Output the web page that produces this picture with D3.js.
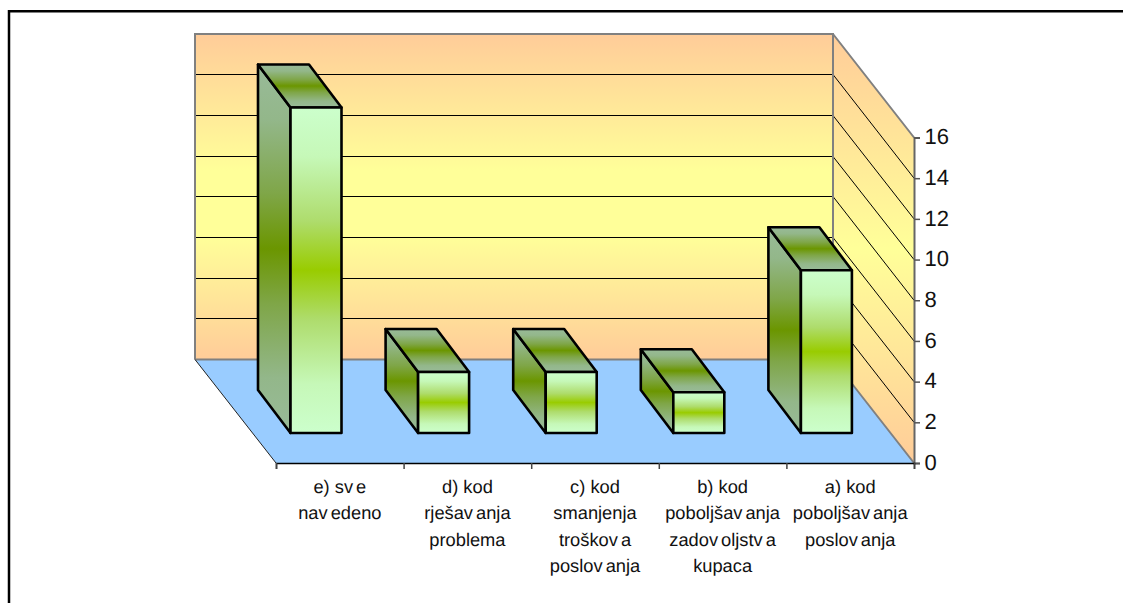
<!DOCTYPE html>
<html><head><meta charset="utf-8">
<style>html,body{margin:0;padding:0;background:#fff}svg{display:block}text{font-family:"Liberation Sans",Arial,sans-serif;fill:#111;text-rendering:geometricPrecision}</style>
<script src="https://cdnjs.cloudflare.com/ajax/libs/d3/7.8.5/d3.min.js"></script>
</head><body><div id="c"></div>
<script>
const categories = [
  ["e) sve","navedeno"],
  ["d) kod","rješavanja","problema"],
  ["c) kod","smanjenja","troškova","poslovanja"],
  ["b) kod","poboljšavanja","zadovoljstva","kupaca"],
  ["a) kod","poboljšavanja","poslovanja"]
];
const values = [16,3,3,2,8];
const yTicks = [0,2,4,6,8,10,12,14,16];

const W=1123,H=603;
const svg=d3.select("#c").append("svg").attr("width",W).attr("height",H);
const defs=svg.append("defs");
function grad(id,stops){
  const g=defs.append("linearGradient").attr("id",id).attr("x1",0).attr("y1",0).attr("x2",0).attr("y2",1);
  stops.forEach(([o,c])=>g.append("stop").attr("offset",o).attr("stop-color",c));
}
grad("wall",[[0,"#FFCC99"],[.42,"#FFFF99"],[.62,"#FFFF99"],[1,"#FFCC99"]]);
grad("sidewall",[[0,"#FFCC99"],[.5,"#FFFF99"],[1,"#FFCC99"]]);
grad("front",[[0,"#CCFFCC"],[.15,"#C6F8B8"],[.35,"#AEDC6C"],[.5,"#99CC00"],[.65,"#AEDC6C"],[.85,"#C6F8B8"],[1,"#CCFFCC"]]);
grad("dark",[[0,"#99BB99"],[.15,"#93B78A"],[.35,"#7FA648"],[.5,"#6B9600"],[.65,"#7FA648"],[.85,"#93B78A"],[1,"#99BB99"]]);

// frame: open on the right, runs off the bottom
svg.append("path").attr("d",`M9,${H} V11.2 H${W}`).attr("fill","none").attr("stroke","#000").attr("stroke-width",2.5);

const x=d3.scaleBand().domain(d3.range(categories.length)).range([276,914]);
const y=d3.scaleLinear().domain([0,16]).range([463,137.5]);
const depthX=-81, depthY=-103.5;
const [x0,x1]=x.range(), y0=y(0), y16=y(16);
const poly=p=>"M"+p.map(q=>q.join(",")).join("L")+"Z";

svg.append("path").attr("d",poly([[x0,y0],[x1,y0],[x1+depthX,y0+depthY],[x0+depthX,y0+depthY]])).attr("fill","#99CCFF");
svg.append("path").attr("d",poly([[x0+depthX,y16+depthY],[x1+depthX,y16+depthY],[x1+depthX,y0+depthY],[x0+depthX,y0+depthY]])).attr("fill","url(#wall)");
svg.append("path").attr("d",poly([[x1,y16],[x1,y0],[x1+depthX,y0+depthY],[x1+depthX,y16+depthY]])).attr("fill","url(#sidewall)");
const grid=yTicks.filter(t=>t>0&&t<16);
svg.selectAll(".g").data(grid).join("path").attr("fill","none").attr("stroke","#000").attr("stroke-width",1)
  .attr("d",t=>{const b=Math.floor(y(t)+depthY)+.5;return `M${x0+depthX},${b}H${x1+depthX}L${x1},${y(t)}`;});
svg.append("path").attr("fill","none").attr("stroke","#808080").attr("stroke-width",2)
  .attr("d",`M${x0+depthX},${y0+depthY}V${y16+depthY}H${x1+depthX}V${y0+depthY}H${x0+depthX}M${x1+depthX},${y16+depthY}L${x1},${y16}M${x1+depthX},${y0+depthY}L${x1},${y0}`);
svg.append("path").attr("fill","none").attr("stroke","#222").attr("stroke-width",1)
  .attr("d",`M${x0+depthX},${y0+depthY}L${x0},${y0}`);

const barOffX=14.5, barW=51, barFrontY=30, barDX=-32.5, barDY=-43;
const bars=svg.selectAll(".b").data(values).join("g").attr("stroke","#000").attr("stroke-width",2.6).attr("stroke-linejoin","round");
const bl=i=>x(i)+barOffX, bb=y0-barFrontY;
const bt=d=>bb-(y0-y(d));
bars.append("path").attr("fill","url(#dark)").attr("d",(d,i)=>poly([[bl(i),bt(d)],[bl(i),bb],[bl(i)+barDX,bb+barDY],[bl(i)+barDX,bt(d)+barDY]]));
bars.append("path").attr("fill","url(#dark)").attr("d",(d,i)=>poly([[bl(i),bt(d)],[bl(i)+barW,bt(d)],[bl(i)+barW+barDX,bt(d)+barDY],[bl(i)+barDX,bt(d)+barDY]]));
bars.append("rect").attr("fill","url(#front)").attr("x",(d,i)=>bl(i)).attr("y",d=>bt(d)).attr("width",barW).attr("height",d=>bb-bt(d));

const yAxis=d3.axisRight(y).tickValues(yTicks).tickSize(6).tickPadding(4.5);
const ya=svg.append("g").attr("transform",`translate(${x1},0)`).call(yAxis);
ya.select(".domain").attr("stroke","#666").attr("stroke-width",2);
ya.selectAll("line").attr("stroke","#555").attr("stroke-width",1.5);
ya.selectAll("text").attr("font-size",22).attr("dy","0.28em").attr("fill","#111").attr("font-family","Liberation Sans, Arial, sans-serif");

const xAxis=d3.axisBottom(d3.scaleLinear().domain([0,categories.length]).range([x0,x1])).tickValues(d3.range(categories.length+1)).tickSize(6).tickFormat("");
const xa=svg.append("g").attr("transform",`translate(0,${y0})`).call(xAxis);
xa.select(".domain").attr("stroke","#000").attr("stroke-width",1.5);
xa.selectAll("line").attr("stroke","#444").attr("stroke-width",1.5);

const lab=svg.selectAll(".l").data(categories).join("text").attr("text-anchor","middle").attr("font-size",18.3)
  .attr("transform",(d,i)=>`translate(${x(i)+x.bandwidth()/2},0)`);
lab.each(function(lines){
  const t=d3.select(this);
  lines.forEach((ln,k)=>{
    const parts=ln.split(/(?<=v)/);
    parts.forEach((p,j)=>{
      const s=t.append("tspan").text(p);
      if(j===0) s.attr("x",0).attr("y",492.5+k*26.6);
      else s.attr("dx",3);
    });
  });
});
</script></body></html>
